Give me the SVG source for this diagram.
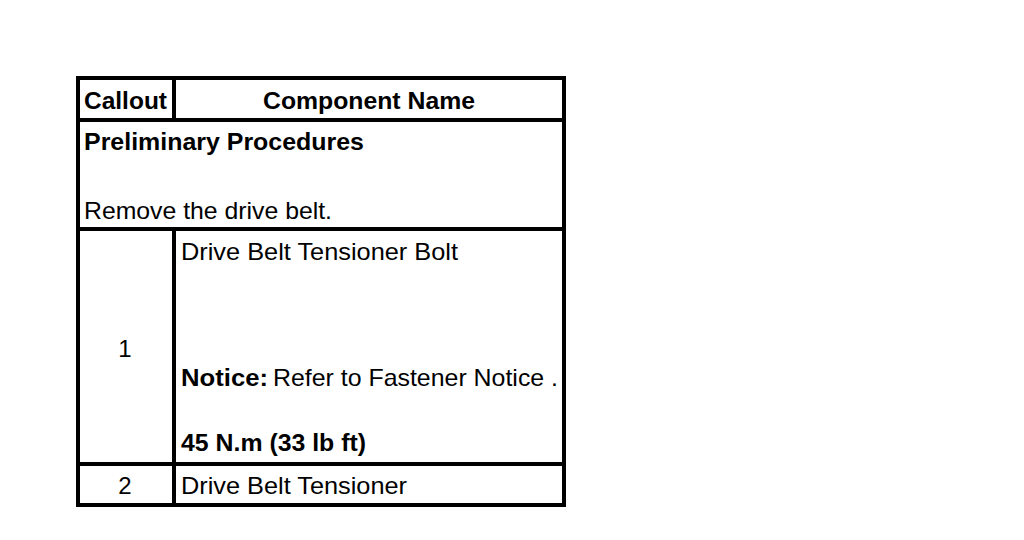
<svg xmlns="http://www.w3.org/2000/svg" width="1024" height="540" viewBox="0 0 1024 540">
<style>
.t{font-family:"Liberation Sans",Arial,sans-serif;font-size:24px;fill:#000}
.b{font-weight:bold}
.ln{stroke:#000;stroke-width:4;fill:none}
</style>
<rect width="1024" height="540" fill="#fff"/>
<g id="grid">
<rect class="ln" x="78" y="78" width="486" height="427"/>
<line class="ln" x1="174" y1="78" x2="174" y2="121"/>
<line class="ln" x1="174" y1="229" x2="174" y2="505"/>
<line class="ln" x1="76" y1="120" x2="566" y2="120"/>
<line class="ln" x1="76" y1="229" x2="566" y2="229"/>
<line class="ln" x1="76" y1="464" x2="566" y2="464"/>
</g>
<g id="header">
<text class="t b" x="84" y="109" textLength="83" lengthAdjust="spacingAndGlyphs">Callout</text>
<text class="t b" x="263" y="109" textLength="212" lengthAdjust="spacingAndGlyphs">Component Name</text>
</g>
<g id="prelim">
<text class="t b" x="84" y="150" textLength="280" lengthAdjust="spacingAndGlyphs">Preliminary Procedures</text>
<text class="t" x="84" y="219" textLength="248" lengthAdjust="spacingAndGlyphs">Remove the drive belt.</text>
</g>
<g id="row1">
<text class="t" x="125" y="357" text-anchor="middle">1</text>
<text class="t" x="181" y="260" textLength="277" lengthAdjust="spacingAndGlyphs">Drive Belt Tensioner Bolt</text>
<text class="t b" x="181" y="386" textLength="87" lengthAdjust="spacingAndGlyphs">Notice:</text>
<text class="t" x="273" y="386" textLength="285" lengthAdjust="spacingAndGlyphs">Refer to Fastener Notice .</text>
<text class="t b" x="181" y="451" textLength="185" lengthAdjust="spacingAndGlyphs">45 N.m (33 lb ft)</text>
</g>
<g id="row2">
<text class="t" x="125" y="494" text-anchor="middle">2</text>
<text class="t" x="181" y="494" textLength="226" lengthAdjust="spacingAndGlyphs">Drive Belt Tensioner</text>
</g>
</svg>
